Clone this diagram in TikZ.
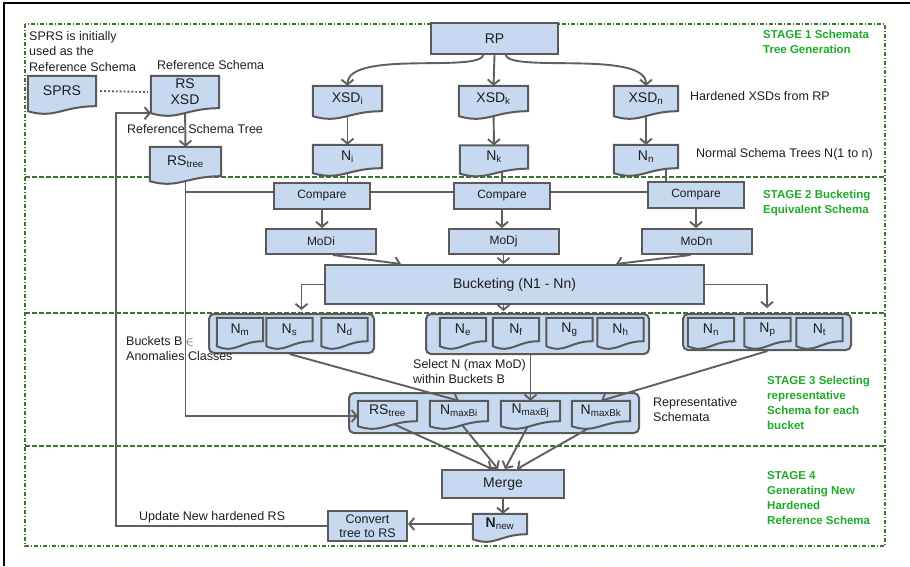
\documentclass[tikz,border=0pt]{standalone}
\usepackage{fontspec}
\setmainfont{Liberation Sans}
\usetikzlibrary{arrows.meta,positioning,calc}
\definecolor{boxfill}{RGB}{198,217,240}
\definecolor{boxline}{RGB}{90,90,90}
\definecolor{linegray}{RGB}{95,95,95}
\definecolor{textdark}{RGB}{30,30,30}
\definecolor{stagegreen}{RGB}{30,170,40}
\definecolor{framegreen}{RGB}{60,115,45}
\pgfdeclarelayer{back}
\pgfdeclarelayer{lines}
\pgfdeclarelayer{docs}
\pgfsetlayers{back,lines,docs,main}
% document shape: text node first, wavy outline behind it
\newcommand{\docitem}[4][]{%
  \node[doctext,#1] (#2) at (#3) {#4};
  \begin{pgfonlayer}{docs}
    \draw[docline] (#2.north west) -- (#2.north east) -- (#2.south east)
      .. controls ($(#2.south west)!0.5!(#2.south east)$) and ($(#2.south west)!0.4!(#2.south east)+(0,13)$)
      .. ($(#2.south west)+(0,5)$) -- cycle;
  \end{pgfonlayer}}
\tikzset{
  docline/.style={draw=boxline, fill=boxfill, line width=2pt},
  doctext/.style={rectangle, inner sep=0pt, text=textdark, font=\fontsize{14}{16}\selectfont},
  procbox/.style={rectangle, draw=boxline, fill=boxfill, line width=2pt, inner sep=0pt, text=textdark},
  bucketbox/.style={procbox, rounded corners=5pt},
  arr/.style={-{Straight Barb[length=5pt,width=12pt]}, draw=linegray, line width=1.9pt},
  conn/.style={draw=linegray, line width=1.9pt},
  lbl/.style={font=\fontsize{12.5}{15.5}\selectfont, text=textdark, inner sep=0pt, align=left},
  stagelbl/.style={font=\fontsize{11.5}{15}\selectfont\bfseries, text=stagegreen, inner sep=0pt, anchor=north west, align=left},
  stageframe/.style={draw=framegreen, line width=1.3pt, dash pattern=on 4pt off 2pt on 1pt off 2pt},
  stagesep/.style={draw=framegreen, line width=1.3pt, dash pattern=on 5pt off 2pt},
}

\begin{document}
\begin{tikzpicture}[x=1pt,y=-1pt]
\useasboundingbox (0,0) rectangle (910,566);
\begin{pgfonlayer}{back}
  \draw[black, line width=2.2pt] (4,566) -- (4,3) -- (910,3);
  \draw[stageframe] (25,24) rectangle (885,546);
  \foreach \y in {177,313,446} \draw[stagesep] (25,\y) -- (885,\y);
  % bucket containers
  \node[bucketbox, minimum width=165pt, minimum height=39pt] (B1) at (291.5,333.5) {};
  \node[bucketbox, minimum width=223pt, minimum height=40pt] (B2) at (537.5,334) {};
  \node[bucketbox, minimum width=168pt, minimum height=36pt] (B3) at (767,332) {};
  \node[bucketbox, minimum width=290pt, minimum height=40pt] (Rep) at (494,413) {};
\end{pgfonlayer}

% stage 1
\node[procbox, minimum width=127pt, minimum height=31pt, font=\fontsize{14}{16}\selectfont] (RP) at (494.5,38.5) {RP};
\docitem[minimum width=68pt, minimum height=30pt]{SPRS}{62,91}{SPRS}
\docitem[minimum width=68pt, minimum height=32pt, align=center]{RSXSD}{185,92}{RS\\XSD}
\docitem[minimum width=71pt, minimum height=29pt]{RStree}{185.5,161.5}{RS\textsubscript{tree}}
\docitem[minimum width=69pt, minimum height=25pt]{XSDi}{347.5,98.5}{XSD\textsubscript{i}}
\docitem[minimum width=69pt, minimum height=25pt]{XSDk}{493.5,98.5}{XSD\textsubscript{k}}
\docitem[minimum width=64pt, minimum height=25pt]{XSDn}{646,98.5}{XSD\textsubscript{n}}
\docitem[minimum width=69pt, minimum height=23pt]{Ni}{347.5,156.5}{N\textsubscript{i}}
\docitem[minimum width=68pt, minimum height=23pt]{Nk}{494,157}{N\textsubscript{k}}
\docitem[minimum width=64pt, minimum height=23pt]{Nn}{646,156.5}{N\textsubscript{n}}

\node[lbl, anchor=north west] (sprsnote) at (29,31) {SPRS is initially\\used as the\\Reference Schema};
\node[lbl, anchor=west] (rslbl) at (157,65) {Reference Schema};
\node[lbl, anchor=west] (rstreelbl) at (127,129) {Reference Schema Tree};
\node[lbl, anchor=west] (xsdlbl) at (690,96) {Hardened XSDs from RP};
\node[lbl, anchor=west] (nlbl) at (696,154) {Normal Schema Trees N(1 to n)};
\node[stagelbl] (st1) at (763,30) {STAGE 1 Schemata\\Tree Generation};

% stage 2
\node[procbox, minimum width=96pt, minimum height=26pt, font=\fontsize{12}{14}\selectfont] (Compare1) at (322,196) {Compare};
\node[procbox, minimum width=96pt, minimum height=26pt, font=\fontsize{12}{14}\selectfont] (Compare2) at (502,196) {Compare};
\node[procbox, minimum width=96pt, minimum height=26pt, font=\fontsize{12}{14}\selectfont] (Compare3) at (696,195) {Compare};
\node[procbox, minimum width=110pt, minimum height=25pt, font=\fontsize{12}{14}\selectfont] (MoDi) at (321,241.5) {MoDi};
\node[procbox, minimum width=110pt, minimum height=25pt, font=\fontsize{12}{14}\selectfont] (MoDj) at (503.5,241.5) {MoDj};
\node[procbox, minimum width=110pt, minimum height=25pt, font=\fontsize{12}{14}\selectfont] (MoDn) at (696.5,241.5) {MoDn};
\node[procbox, minimum width=379pt, minimum height=39pt, font=\fontsize{14}{16}\selectfont] (Bucketing) at (514.5,284.5) {Bucketing (N1 - Nn)};
\node[stagelbl] (st2) at (763,190) {STAGE 2 Bucketing\\Equivalent Schema};

% stage 3
\foreach \nm/\x/\s in {Nm/240/m, Ns/289.5/s, Nd/344.5/d, Ne/463/e, Nf/516/f, Ng/569.5/g, Nh/620.5/h, Nnb/711/n, Np/767.5/p, Nt/819.5/t}
  \docitem[minimum width=46pt, minimum height=23pt]{\nm}{\x,329.5}{N\textsubscript{\s}};
\docitem[minimum width=59pt, minimum height=20pt]{RStreeB}{387.5,411}{RS\textsubscript{tree}}
\docitem[minimum width=58pt, minimum height=20pt]{NmaxBi}{459,411}{N\textsubscript{maxBi}}
\docitem[minimum width=59pt, minimum height=20pt]{NmaxBj}{530.5,411}{N\textsubscript{maxBj}}
\docitem[minimum width=58pt, minimum height=20pt]{NmaxBk}{601,411}{N\textsubscript{maxBk}}
\node[lbl, anchor=north west] (bucketlbl) at (126,336) {Buckets B $\in$\\Anomalies Classes};
\node[lbl, anchor=north west] (selectlbl) at (413,359) {Select N (max MoD)\\within Buckets B};
\node[lbl, anchor=north west] (replbl) at (653,397) {Representative\\Schemata};
\node[stagelbl] (st3) at (767,376) {STAGE 3 Selecting\\representative\\Schema for each\\bucket};

% stage 4
\node[procbox, minimum width=122pt, minimum height=28pt, font=\fontsize{14}{16}\selectfont] (Merge) at (503,484) {Merge};
\docitem[minimum width=54pt, minimum height=20pt]{Nnew}{500,524}{\textbf{N}\textsubscript{new}}
\node[procbox, minimum width=79pt, minimum height=30pt, align=center, font=\fontsize{12.5}{14}\selectfont] (Convert) at (367.5,526) {Convert\\tree to RS};
\node[lbl, anchor=west] (updlbl) at (139,517) {Update New hardened RS};
\node[stagelbl] (st4) at (767,471) {STAGE 4\\Generating New\\Hardened\\Reference Schema};

\begin{pgfonlayer}{lines}
  \draw[arr] ($(RP.south)+(-11,0)$) .. controls +(-5,18) and +(0,-36) .. (XSDi.north);
  \draw[arr] (RP.south) -- (XSDk.north);
  \draw[arr] ($(RP.south)+(11,0)$) .. controls +(5,18) and +(0,-36) .. (XSDn.north);
  \draw[arr] (XSDi.south) -- (Ni.north);
  \draw[arr] (XSDk.south) -- (Nk.north);
  \draw[arr] (XSDn.south) -- (Nn.north);
  \draw[arr] (RSXSD.south) -- (RStree.north);
  \draw[conn, dotted, shorten <=4pt, shorten >=3pt] (SPRS.east) -- (RSXSD.west);
  % trees into compare
  \draw[conn] (Ni.south) -- (Ni.south |- Compare1.center);
  \draw[conn] (Compare2.north |- Nk.south) -- (Compare2.center);
  \path ($(Nn.south)+(20,0)$) coordinate (nnout);
  \draw[conn] (nnout) -- (nnout |- Compare3.center);
  \draw[conn] (RStree.south) |- ($(Compare3.west)+(0,-3)$);
  \draw[arr] (RStree.south) |- ($(RStreeB.west)+(0,5)$);
  \draw[arr] (Compare1.south) -- (Compare1.south |- MoDi.north);
  \draw[arr] (Compare2.south) -- (Compare2.south |- MoDj.north);
  \draw[arr] (Compare3.south) -- (Compare3.south |- MoDn.north);
  \draw[arr] ($(MoDi.south)+(12,0)$) -- ($(Bucketing.north west)+(77,0)$);
  \draw[arr] (MoDj.south) -- (MoDj.south |- Bucketing.north);
  \draw[arr] ($(MoDn.south)+(-6,0)$) -- ($(Bucketing.north east)+(-89,0)$);
  % buckets
  \draw[arr, shorten >=3pt] (Bucketing.west) -| ($(B1.north)+(10,0)$);
  \draw[arr, shorten >=2pt] (MoDj.south |- Bucketing.south) -- (MoDj.south |- B2.north);
  \draw[arr, shorten >=5pt] (Bucketing.east) -| (B3.north);
  % representative schemata
  \draw[arr] (Ns.south |- B1.south) -- (NmaxBi.north);
  \draw[arr] (NmaxBj.north |- B2.south) -- (NmaxBj.north);
  \draw[arr] (Np.south |- B3.south) -- (NmaxBk.north);
  \draw[arr] (RStreeB.south) -- ($(Merge.north)+(-11,0)$);
  \draw[arr] (NmaxBi.south) -- ($(Merge.north)+(-5,0)$);
  \draw[arr] (NmaxBj.south) -- ($(Merge.north)+(2,0)$);
  \draw[arr] (NmaxBk.south) -- ($(Merge.north)+(14,0)$);
  % new reference schema
  \draw[arr] (Merge.south) -- (Merge.south |- Nnew.north);
  \draw[arr] (Nnew.west) -- (Nnew.west -| Convert.east);
  \path (116,526) coordinate (loop);
  \draw[arr] (Convert.west) -- (Convert.west -| loop) |- ($(RSXSD.south west)+(0,5)$);
\end{pgfonlayer}
\end{tikzpicture}
\end{document}
